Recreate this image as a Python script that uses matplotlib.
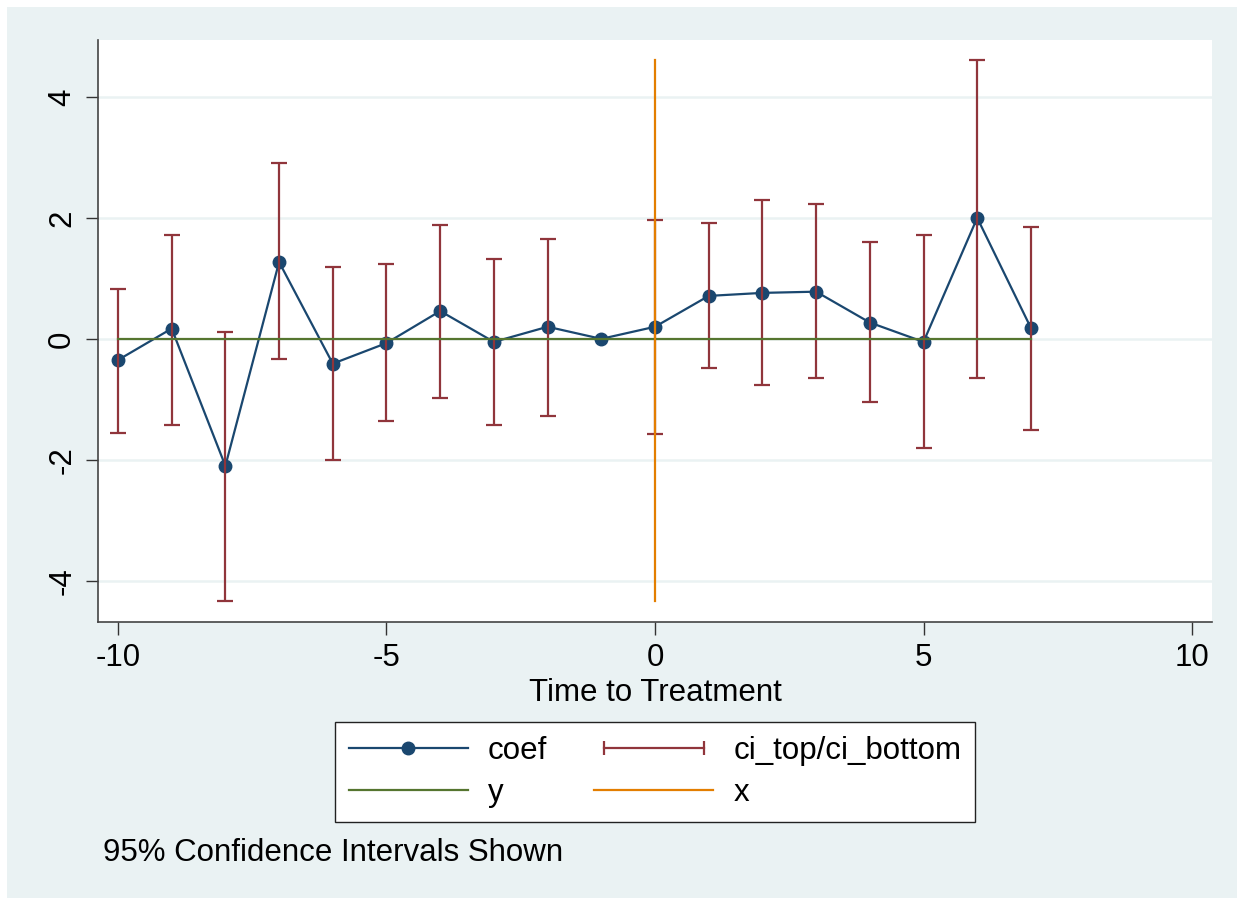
import numpy as np
import matplotlib
matplotlib.use("Agg")
from matplotlib import pyplot as plt
from matplotlib.lines import Line2D
from matplotlib.patches import Rectangle
from matplotlib.legend_handler import HandlerLine2D

plt.rcParams['font.family'] = ['Liberation Sans', 'DejaVu Sans']
plt.rcParams['axes.unicode_minus'] = False

# event-time coefficients and 95% CIs (period -1 is the reference)
time_to_treat = [-10, -9, -8, -7, -6, -5, -4, -3, -2, -1, 0, 1, 2, 3, 4, 5, 6, 7]
coef = [-0.35, 0.17, -2.10, 1.27, -0.41, -0.07, 0.46, -0.05, 0.20, 0.0,
        0.20, 0.71, 0.76, 0.78, 0.27, -0.05, 2.00, 0.18]
ci_top = [0.83, 1.72, 0.12, 2.90, 1.19, 1.24, 1.88, 1.32, 1.65, np.nan,
          1.97, 1.92, 2.30, 2.23, 1.60, 1.72, 4.61, 1.85]
ci_bottom = [-1.55, -1.42, -4.33, -0.33, -2.00, -1.35, -0.97, -1.42, -1.27, np.nan,
             -1.57, -0.48, -0.76, -0.65, -1.05, -1.80, -0.64, -1.50]
x_line_range = [-4.33, 4.61]

navy = "#1a476f"
maroon = "#90353b"
green = "#55752f"
orange = "#e37e00"
bg = "#eaf2f3"
fs = 22.5

fig = plt.figure(figsize=(12.44, 9.05), dpi=100, facecolor="white")
fig.patches.append(Rectangle((7 / 1244, 7 / 905), 1230 / 1244, 891 / 905,
                             transform=fig.transFigure, facecolor=bg,
                             edgecolor="none", zorder=-10))

ax = fig.add_axes([98 / 1244, 1 - 622 / 905, (1212 - 98) / 1244, (622 - 40) / 905])
ax.set_facecolor("white")

t = np.array(time_to_treat)
top = np.array(ci_top)
bot = np.array(ci_bottom)
mid = (top + bot) / 2
half = (top - bot) / 2

ax.plot(t, coef, color=navy, lw=1.6, marker="o", ms=9, zorder=3)
ax.errorbar(t, mid, yerr=half, fmt="none", ecolor=maroon, elinewidth=1.6,
            capsize=5.5, capthick=1.6, zorder=4)
ax.plot([t.min(), t.max()], [0, 0], color=green, lw=1.6, zorder=5)
ax.plot([0, 0], x_line_range, color=orange, lw=1.6, zorder=6)

ax.set_xlim(-10.372, 10.372)
ax.set_ylim(-4.68, 4.94)
ax.set_xticks([-10, -5, 0, 5, 10])
ax.set_yticks([-4, -2, 0, 2, 4])
ax.grid(axis="y", color=bg, lw=1.8, zorder=0)
ax.set_axisbelow(True)

for s in ["top", "right"]:
    ax.spines[s].set_visible(False)
for s in ["left", "bottom"]:
    ax.spines[s].set_color("#444444")
    ax.spines[s].set_linewidth(1.2)

ax.tick_params(axis="both", length=9, width=1.0, color="#333333", labelsize=fs)
ax.tick_params(axis="x", pad=6)
ax.tick_params(axis="y", pad=6)
for lab in ax.get_yticklabels():
    lab.set_rotation(90)
    lab.set_va("center")

ax.set_xlabel("Time to Treatment", fontsize=fs, labelpad=4)

h_coef = Line2D([], [], color=navy, lw=1.6, marker="o", ms=9)
h_ci = Line2D([], [], color=maroon, lw=1.6, marker="|", ms=10, mew=1.6)
h_y = Line2D([], [], color=green, lw=1.6)
h_x = Line2D([], [], color=orange, lw=1.6)
leg = ax.legend([h_coef, h_y, h_ci, h_x], ["coef", "y", "ci_top/ci_bottom", "x"],
                ncol=2, loc="center", bbox_to_anchor=(655 / 1244, 1 - 772 / 905),
                bbox_transform=fig.transFigure, fontsize=fs, frameon=True,
                fancybox=False, edgecolor="#222222", framealpha=1,
                handlelength=3.8, handletextpad=0.65, columnspacing=1.5,
                labelspacing=0.4, borderpad=0.45,
                handler_map={h_ci: HandlerLine2D(numpoints=2),
                             h_coef: HandlerLine2D(numpoints=1)})
leg.get_frame().set_linewidth(1.0)

fig.text(103 / 1244, 1 - 853 / 905, "95% Confidence Intervals Shown",
         fontsize=fs, va="center", ha="left")

fig.savefig("out.png", dpi=100, facecolor=fig.get_facecolor())
